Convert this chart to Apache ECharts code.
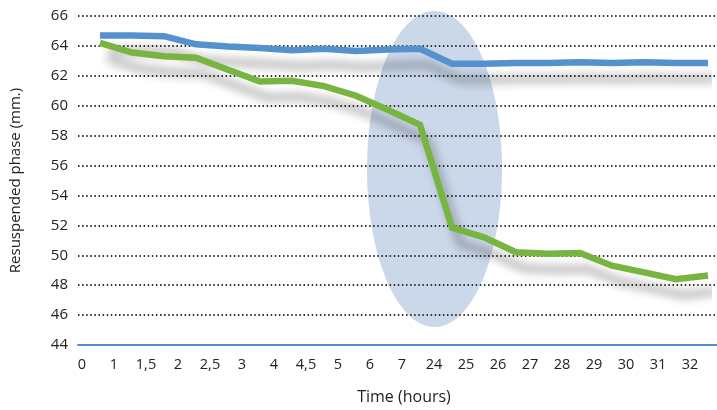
<!DOCTYPE html>
<html>
<head>
<meta charset="utf-8">
<script src="https://cdn.jsdelivr.net/npm/echarts@6/dist/echarts.min.js"></script>
<style>
html,body{margin:0;padding:0;background:#fff;}
#main{width:717px;height:410px;}
</style>
</head>
<body>
<div id="main"></div>
<script>
var timeLabels = ['0','1','1,5','2','2,5','3','4','4,5','5','6','7','24','25','26','27','28','29','30','31','32'];
var blueSeries = [64.7, 64.7, 64.65, 64.1, 63.95, 63.85, 63.7, 63.8, 63.65, 63.75, 63.8, 62.8, 62.8, 62.85, 62.85, 62.9, 62.85, 62.9, 62.85, 62.85];
var greenSeries = [64.2, 63.55, 63.3, 63.2, 62.4, 61.6, 61.65, 61.3, 60.65, 59.7, 58.7, 51.8, 51.15, 50.15, 50.05, 50.1, 49.25, 48.8, 48.35, 48.6];
var yTicks = {min: 44, max: 66, step: 2};

var FONT = 'Open Sans';
var chart = echarts.init(document.getElementById('main'), null, {renderer: 'canvas'});
var shadow = {shadowColor: 'rgba(0,0,0,0.32)', shadowBlur: 10, shadowOffsetX: 8, shadowOffsetY: 16};

chart.setOption({
  animation: false,
  grid: [
    {left: 78, right: 0, top: 16, bottom: 65},
    {left: 100, right: 9, top: 16, bottom: 65}
  ],
  xAxis: [
    {type: 'value', gridIndex: 0, min: 0, max: 1, z: 4,
     axisLine: {show: true, lineStyle: {color: '#4f8fd0', width: 2}},
     axisTick: {show: false}, axisLabel: {show: false}, splitLine: {show: false}},
    {type: 'category', gridIndex: 1, data: timeLabels, boundaryGap: false,
     axisLine: {show: false}, axisTick: {show: false}, splitLine: {show: false},
     axisLabel: {color: '#222', fontFamily: FONT, fontSize: 14.5, margin: 13, interval: 0, padding: [0, 36, 0, 0]},
     name: 'Time (hours)', nameLocation: 'middle', nameGap: 45,
     nameTextStyle: {color: '#222', fontFamily: FONT, fontSize: 16}}
  ],
  yAxis: [
    {type: 'value', gridIndex: 0, min: yTicks.min, max: yTicks.max, interval: yTicks.step, z: 3,
     axisLine: {show: false}, axisTick: {show: false},
     axisLabel: {color: '#222', fontFamily: FONT, fontSize: 15, margin: 10},
     splitLine: {show: true, lineStyle: {color: '#333', width: 2, type: [1.5, 2.6]}},
     name: 'Resuspended phase (mm.)', nameLocation: 'middle', nameGap: 55,
     nameTextStyle: {color: '#222', fontFamily: FONT, fontSize: 15}},
    {type: 'value', gridIndex: 1, min: yTicks.min, max: yTicks.max, interval: yTicks.step, show: false}
  ],
  graphic: [
    {type: 'ellipse', z: 1, shape: {cx: 434.5, cy: 169, rx: 67.5, ry: 158},
     style: {fill: '#cbd8ea'}}
  ],
  series: [
    {type: 'line', xAxisIndex: 1, yAxisIndex: 1, data: blueSeries, symbol: 'none', z: 5,
     lineStyle: Object.assign({color: '#5592cd', width: 6.5, join: 'miter'}, shadow)},
    {type: 'line', xAxisIndex: 1, yAxisIndex: 1, data: greenSeries, symbol: 'none', z: 6,
     lineStyle: Object.assign({color: '#77b540', width: 6.5, join: 'miter'}, shadow)}
  ]
});
</script>
</body>
</html>
